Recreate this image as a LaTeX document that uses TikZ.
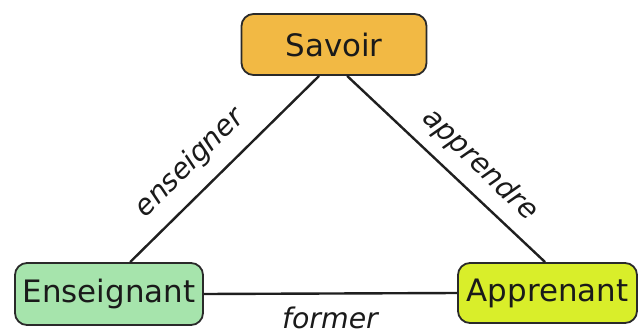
\documentclass[tikz,border=0pt]{standalone}
\usepackage{fontspec}
\setmainfont{DejaVu Sans}
\definecolor{savcol}{HTML}{F2B944}
\definecolor{enscol}{HTML}{A6E4AC}
\definecolor{appcol}{HTML}{D9EE2A}
\definecolor{edgecol}{HTML}{2A2A2A}
\definecolor{txtcol}{HTML}{1A1A1A}
\begin{document}
\begin{tikzpicture}[x=1bp,y=1bp,
  boxnode/.style={draw=edgecol, line width=1.8bp, rounded corners=12bp, inner sep=0pt,
    text=txtcol, font=\fontsize{31}{32}\selectfont},
  linknode/.style={draw=black!88, line width=2.4bp},
  lbl/.style={text=txtcol, font=\fontsize{28.5}{29}\selectfont\itshape, inner sep=0pt}]
\useasboundingbox (0,0) rectangle (639,331);
\node[boxnode, fill=savcol, minimum width=185bp, minimum height=61bp] (sav) at (334,286.5) {Savoir};
\node[boxnode, fill=enscol, minimum width=188bp, minimum height=62bp] (ens) at (109,37) {Enseignant};
\node[boxnode, fill=appcol, minimum width=179bp, minimum height=60bp] (app) at (547.5,38) {Apprenant};
\draw[linknode] ([xshift=78.5bp]sav.south west) -- ([xshift=116bp]ens.north west);
\draw[linknode] ([xshift=106.5bp]sav.south west) -- ([xshift=88bp]app.north west);
\draw[linknode] (ens.east) -- (app.west);
\node[lbl, rotate=45] (lens) at (190,168) {enseigner};
\node[lbl, rotate=-44] (lapp) at (480,166) {apprendre};
\node[lbl, anchor=base] (lfor) at (330,3) {former};
\end{tikzpicture}
\end{document}
